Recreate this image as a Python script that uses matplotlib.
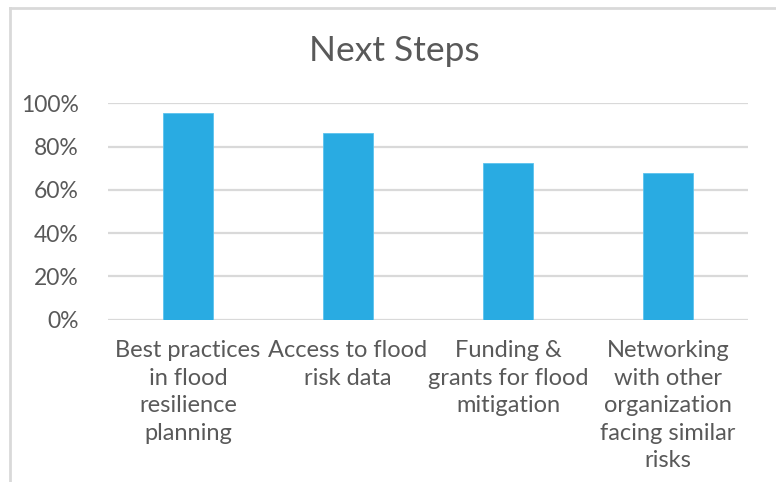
import matplotlib
matplotlib.use("Agg")
import matplotlib.pyplot as plt
from matplotlib.lines import Line2D
from matplotlib.ticker import PercentFormatter

plt.rcParams['font.family'] = ['Lato', 'DejaVu Sans']

# survey results
categories = [
    "Best practices\nin flood\nresilience\nplanning",
    "Access to flood\nrisk data",
    "Funding &\ngrants for flood\nmitigation",
    "Networking\nwith other\norganization\nfacing similar\nrisks",
]
shares = [0.955, 0.865, 0.725, 0.68]
yticks = [0, 0.2, 0.4, 0.6, 0.8, 1.0]

text_col = '#595959'
grid_col = '#d9d9d9'
bar_col = '#29abe2'

W, H = 776, 482
fig = plt.figure(figsize=(W / 100, H / 100), dpi=100)
ax = fig.add_axes([108 / W, 1 - 319.5 / H, 640 / W, 216 / H])

x = list(range(len(categories)))
ax.bar(x, shares, width=0.31, color=bar_col, edgecolor='#5cc3ee', linewidth=0.6, zorder=3)

ax.set_xlim(-0.5, len(categories) - 0.5)
ax.set_ylim(0, 1.0)
ax.set_yticks(yticks)
ax.yaxis.set_major_formatter(PercentFormatter(1.0, decimals=0))
ax.grid(axis='y', color=grid_col, linewidth=1.6, zorder=0)
ax.set_axisbelow(True)
for s in ax.spines.values():
    s.set_visible(False)

ax.set_xticks(x)
ax.set_xticklabels(categories, linespacing=1.38)
ax.tick_params(axis='x', length=0, pad=15, labelsize=17, labelcolor=text_col)
ax.tick_params(axis='y', length=0, pad=21, labelsize=16.5, labelcolor=text_col)
for lbl in ax.get_xticklabels():
    lbl.set_verticalalignment('top')
    lbl.set_horizontalalignment('center')

fig.text(394 / W, 1 - 51 / H, "Next Steps", ha='center', va='center',
         fontsize=25.5, color=text_col)

# chart area frame (left and top edges)
fig.add_artist(Line2D([9.5 / W, 9.5 / W], [0, 1 - 8 / H], color=grid_col, linewidth=2))
fig.add_artist(Line2D([9.5 / W, 1], [1 - 8 / H, 1 - 8 / H], color=grid_col, linewidth=2))

fig.savefig("out.png", dpi=100, facecolor='white')
